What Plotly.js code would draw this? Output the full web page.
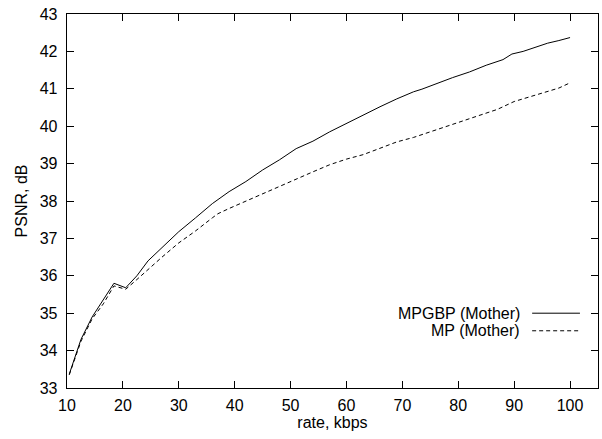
<!DOCTYPE html>
<html>
<head>
<meta charset="utf-8">
<script src="https://cdn.plot.ly/plotly-3.0.1.min.js"></script>
<style>html,body{margin:0;padding:0;background:#fff;}#chart{width:602px;height:439px;}</style>
</head>
<body>
<div id="chart"></div>
<script>
// Data
const seriesNames = ["MPGBP (Mother)", "MP (Mother)"];
const mpgbpRate = [10.4, 12.5, 14.5, 16.5, 18.4, 20.5, 22.5, 24.5, 27, 30, 33, 36, 39, 42, 45, 48, 51, 54, 57, 60, 63, 66, 69, 72, 73.5, 76, 79, 82, 85, 88, 89.6, 91.6, 94, 96, 98, 100];
const mpgbpPsnr = [33.37, 34.3, 34.9, 35.35, 35.8, 35.68, 36.0, 36.4, 36.75, 37.18, 37.55, 37.93, 38.25, 38.52, 38.83, 39.1, 39.4, 39.6, 39.85, 40.08, 40.3, 40.52, 40.73, 40.92, 40.99, 41.14, 41.3, 41.45, 41.63, 41.78, 41.93, 42.0, 42.12, 42.22, 42.29, 42.37];
const mpRate = [10.4, 12.5, 14.5, 16.5, 18.4, 20.5, 22.5, 24.5, 27, 30, 33, 36, 37, 39, 42, 45, 48, 51, 54, 57, 60, 63, 66, 69, 72, 75, 78, 80, 84, 87, 90, 92, 95, 98, 100];
const mpPsnr = [33.35, 34.25, 34.85, 35.25, 35.73, 35.64, 35.9, 36.17, 36.5, 36.88, 37.2, 37.55, 37.66, 37.8, 38.0, 38.2, 38.38, 38.6, 38.78, 38.97, 39.12, 39.24, 39.42, 39.58, 39.7, 39.85, 40.0, 40.1, 40.32, 40.45, 40.66, 40.75, 40.87, 41.02, 41.16];
const xTicks = [10, 20, 30, 40, 50, 60, 70, 80, 90, 100];
const yTicks = [33, 34, 35, 36, 37, 38, 39, 40, 41, 42, 43];

const font = "'Liberation Sans', Arial, Helvetica, sans-serif";
const fs = 16;

const traces = [
  {x: mpgbpRate, y: mpgbpPsnr, name: seriesNames[0], mode: "lines", type: "scatter",
   line: {color: "#000", width: 1}},
  {x: mpRate, y: mpPsnr, name: seriesNames[1], mode: "lines", type: "scatter",
   line: {color: "#000", width: 1, dash: "4px,3px"}}
];

const axisCommon = {
  showgrid: false, zeroline: false, showline: true, mirror: "allticks",
  linecolor: "#000", linewidth: 1.3, ticks: "inside", ticklen: 7, tickwidth: 1,
  tickcolor: "#000", tickfont: {family: font, size: fs, color: "#000"}
};

const layout = {
  width: 602, height: 439,
  margin: {l: 67, r: 4, t: 14, b: 51},
  paper_bgcolor: "#fff", plot_bgcolor: "#fff",
  showlegend: false,
  font: {family: font, size: fs, color: "#000"},
  xaxis: Object.assign({}, axisCommon, {
    range: [10, 105], tickvals: xTicks, ticktext: xTicks.map(String),
    ticklabelstandoff: 2,
    title: {text: "rate, kbps", font: {family: font, size: fs, color: "#000"}, standoff: 4}
  }),
  yaxis: Object.assign({}, axisCommon, {
    range: [33, 43], tickvals: yTicks, ticktext: yTicks.map(String),
    ticklabelstandoff: 5,
    title: {text: "PSNR, dB", font: {family: font, size: fs, color: "#000"}, standoff: 8}
  }),
  annotations: [
    {xref: "paper", yref: "paper", x: 0.856, y: 0.20, xanchor: "right", yanchor: "middle",
     text: seriesNames[0], showarrow: false, font: {family: font, size: fs, color: "#000"}},
    {xref: "paper", yref: "paper", x: 0.856, y: 0.153, xanchor: "right", yanchor: "middle",
     text: seriesNames[1], showarrow: false, font: {family: font, size: fs, color: "#000"}}
  ],
  shapes: [
    {type: "line", xref: "paper", yref: "paper", x0: 0.876, x1: 0.966, y0: 0.20, y1: 0.20,
     line: {color: "#000", width: 1}},
    {type: "line", xref: "paper", yref: "paper", x0: 0.876, x1: 0.966, y0: 0.153, y1: 0.153,
     line: {color: "#000", width: 1, dash: "4px,3px"}}
  ]
};

Plotly.newPlot("chart", traces, layout, {displayModeBar: false, staticPlot: true});
</script>
</body>
</html>
